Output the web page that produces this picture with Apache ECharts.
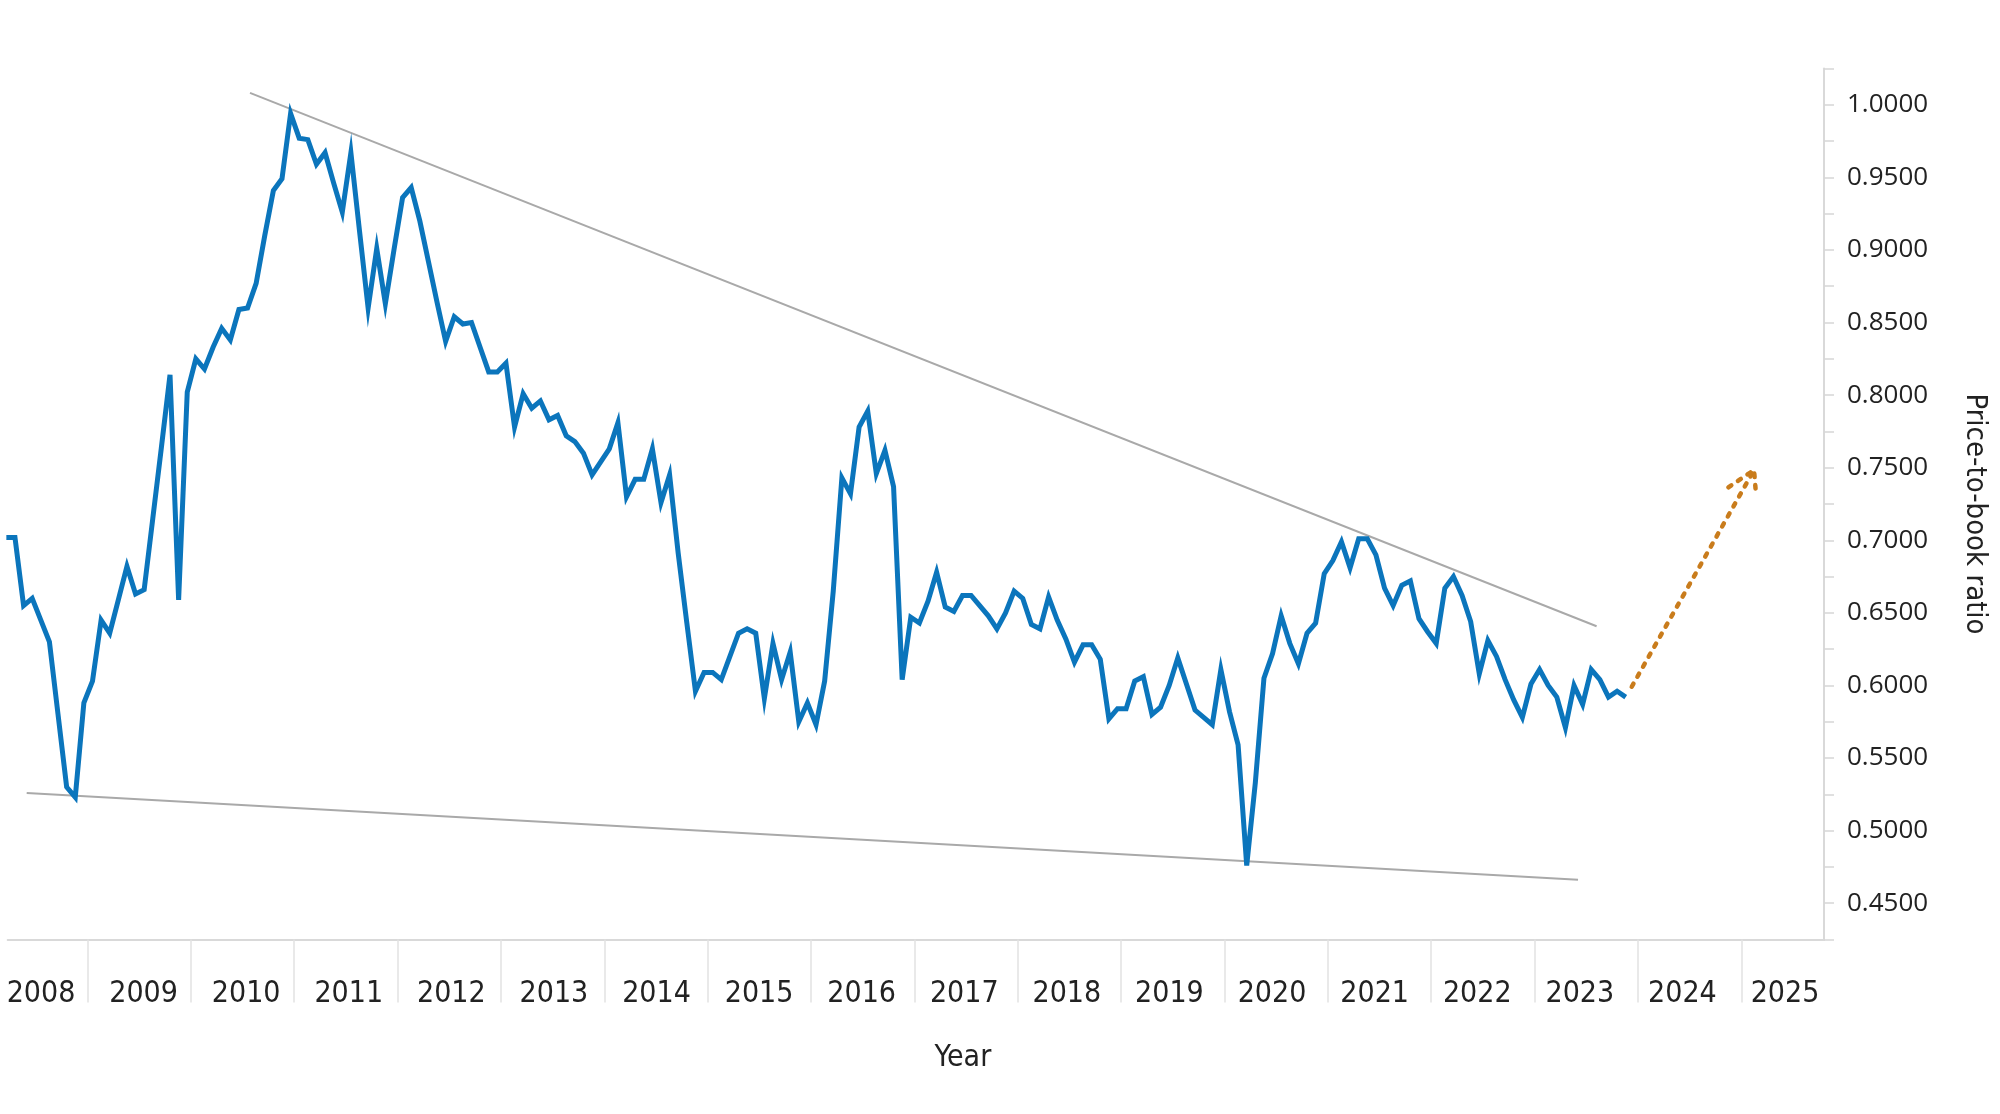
<!DOCTYPE html>
<html>
<head>
<meta charset="utf-8">
<script src="https://cdn.jsdelivr.net/npm/echarts@6/dist/echarts.min.js"></script>
<style>
  html, body { margin: 0; padding: 0; background: #ffffff; }
  #chart { width: 2000px; height: 1114px; }
</style>
</head>
<body>
<div id="chart"></div>
<script>
// ---- Data ----
// Monthly price-to-book ratio, first observation ~Mar 2008, last ~Nov 2023
const firstObsYear = 2008.215;   // position of the first monthly observation (fractional year)
const monthStep = 1 / 12;
const pbValues = [
  0.702, 0.702, 0.655, 0.660, 0.645, 0.630, 0.580, 0.530, 0.523, 0.588,
  0.603, 0.645, 0.636, 0.659, 0.682, 0.663, 0.666, 0.715, 0.764, 0.814,
  0.659, 0.802, 0.825, 0.818, 0.833, 0.846, 0.838, 0.859, 0.860, 0.877,
  0.910, 0.941, 0.949, 0.994, 0.977, 0.976, 0.959, 0.967, 0.946, 0.926,
  0.967, 0.913, 0.860, 0.901, 0.863, 0.900, 0.936, 0.943, 0.920, 0.892,
  0.864, 0.837, 0.854, 0.849, 0.850, 0.833, 0.816, 0.816, 0.822, 0.778,
  0.801, 0.791, 0.796, 0.783, 0.786, 0.772, 0.768, 0.760, 0.745, 0.754,
  0.763, 0.781, 0.730, 0.742, 0.742, 0.763, 0.726, 0.745, 0.691, 0.643,
  0.596, 0.609, 0.609, 0.604, 0.620, 0.636, 0.639, 0.636, 0.591, 0.629,
  0.604, 0.623, 0.575, 0.588, 0.573, 0.603, 0.665, 0.743, 0.732, 0.778,
  0.789, 0.746, 0.762, 0.737, 0.604, 0.647, 0.643, 0.658, 0.678, 0.654,
  0.651, 0.662, 0.662, 0.655, 0.648, 0.639, 0.650, 0.665, 0.660, 0.642,
  0.639, 0.661, 0.645, 0.632, 0.616, 0.628, 0.628, 0.618, 0.577, 0.584,
  0.584, 0.603, 0.606, 0.580, 0.585, 0.600, 0.619, 0.601, 0.583, 0.578,
  0.573, 0.611, 0.582, 0.559, 0.476, 0.533, 0.605, 0.622, 0.648, 0.629,
  0.615, 0.636, 0.643, 0.677, 0.686, 0.699, 0.681, 0.701, 0.701, 0.690,
  0.667, 0.655, 0.669, 0.672, 0.646, 0.637, 0.629, 0.667, 0.675, 0.662,
  0.644, 0.608, 0.631, 0.620, 0.604, 0.590, 0.578, 0.601, 0.611, 0.600,
  0.592, 0.571, 0.600, 0.587, 0.611, 0.604, 0.592, 0.596, 0.592
];

// Trend lines [year, value]
const upperTrend = [[2010.572, 1.0082], [2023.600, 0.6408]];
const lowerTrend = [[2008.412, 0.5260], [2023.420, 0.4662]];

// Projection arrow [year, value]
const arrowShaft = [[2023.940, 0.5991], [2025.123, 0.7484]];
const arrowHead  = [[2024.875, 0.7365], [2025.123, 0.7484], [2025.142, 0.7319]];

// Axis ticks / labels
const yearLabels = ['2008','2009','2010','2011','2012','2013','2014','2015','2016',
                    '2017','2018','2019','2020','2021','2022','2023','2024','2025'];
const yearBoundaries = [2009,2010,2011,2012,2013,2014,2015,2016,2017,
                        2018,2019,2020,2021,2022,2023,2024,2025];
const yLabelValues = [0.45,0.50,0.55,0.60,0.65,0.70,0.75,0.80,0.85,0.90,0.95,1.00];
const yTickValues = [0.425,0.45,0.475,0.50,0.525,0.55,0.575,0.60,0.625,0.65,0.675,0.70,
                     0.725,0.75,0.775,0.80,0.825,0.85,0.875,0.90,0.925,0.95,0.975,1.00,1.025];

// ---- Build ----
const seriesData = pbValues.map((v, i) => [firstObsYear + i * monthStep, v]);
// label anchor inside each year band (reference labels drift slightly left across the axis)
const yearLabelPos = yearLabels.map((y, k) => Number(y) + 0.55 - k * 0.0075);

const chart = echarts.init(document.getElementById('chart'), null, { renderer: 'canvas' });
const narrow = '"Liberation Sans Narrow", "DejaVu Sans Condensed", "Liberation Sans", sans-serif';

chart.setOption({
  animation: false,
  backgroundColor: '#ffffff',
  grid: {
    left: 7.7, right: 176, top: 68.5, bottom: 174.5,
    containLabel: false, outerBoundsMode: 'none'
  },
  xAxis: {
    type: 'value',
    min: 2008.228,
    max: 2025.80,
    splitLine: { show: false },
    axisLine: { show: true, onZero: false, lineStyle: { color: '#d9d9d9', width: 2 } },
    axisTick: { show: true, customValues: yearBoundaries, length: 63,
                lineStyle: { color: '#e2e2e2', width: 1.5 } },
    axisLabel: {
      customValues: yearLabelPos,
      formatter: v => String(Math.floor(v)),
      margin: 40,
      fontFamily: narrow, fontSize: 30, color: '#222222'
    },
    name: 'Year',
    nameLocation: 'middle',
    nameGap: 104,
    nameTextStyle: { fontFamily: narrow, fontSize: 30, color: '#222222', padding: [0, 0, 0, 94] }
  },
  yAxis: {
    type: 'value',
    position: 'right',
    min: 0.425,
    max: 1.025,
    splitLine: { show: false },
    axisLine: { show: true, lineStyle: { color: '#d9d9d9', width: 2 } },
    axisTick: { show: true, customValues: yTickValues, length: 10,
                lineStyle: { color: '#d6d6d6', width: 1.5 } },
    axisLabel: {
      customValues: yLabelValues,
      formatter: v => v.toFixed(4),
      margin: 23,
      fontFamily: '"Open Sans", sans-serif', fontSize: 26, color: '#222222'
    },
    name: 'Price-to-book ratio',
    nameLocation: 'middle',
    nameRotate: -90,
    nameGap: 136,
    nameTextStyle: { fontFamily: narrow, fontSize: 29, color: '#222222', padding: [0, 0, 0, 20] }
  },
  series: [
    {
      type: 'line', name: 'upper', data: upperTrend, symbol: 'none', silent: true,
      lineStyle: { color: '#a9a9a9', width: 2 }, z: 1
    },
    {
      type: 'line', name: 'lower', data: lowerTrend, symbol: 'none', silent: true,
      lineStyle: { color: '#a9a9a9', width: 2 }, z: 1
    },
    {
      type: 'line', name: 'P/B', data: seriesData, symbol: 'none', clip: false,
      lineStyle: { color: '#0b75bc', width: 5, join: 'miter' }, z: 3
    },
    {
      type: 'line', name: 'arrow', data: arrowShaft, symbol: 'none', silent: true,
      lineStyle: { color: '#c97c1c', width: 4.5, type: [3.5, 8], cap: 'round' }, z: 2
    },
    {
      type: 'line', name: 'arrowhead', data: arrowHead, symbol: 'none', silent: true,
      lineStyle: { color: '#c97c1c', width: 4.5, type: [3.5, 8], cap: 'round' }, z: 2
    }
  ]
});
</script>
</body>
</html>
